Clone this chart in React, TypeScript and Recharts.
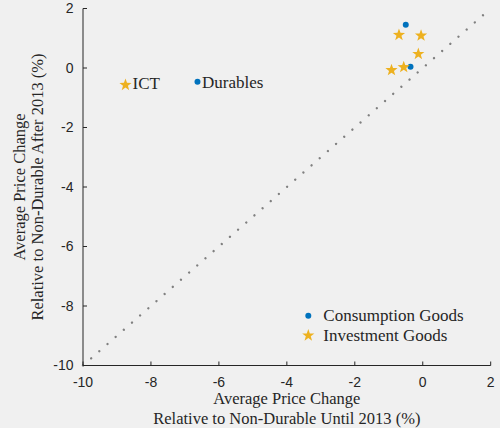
import React from "react";
import {
  ScatterChart,
  Scatter,
  XAxis,
  YAxis,
  ReferenceLine,
} from "recharts";

// Consumption goods (blue dots)
const consumptionNames = ["Durables", "", ""];
const consumptionX = [-6.63, -0.5, -0.36];
const consumptionY = [-0.46, 1.45, 0.04];

// Investment goods (yellow stars)
const investmentNames = ["ICT", "", "", "", "", ""];
const investmentX = [-8.75, -0.7, -0.05, -0.13, -0.92, -0.56];
const investmentY = [-0.57, 1.11, 1.09, 0.47, -0.07, 0.03];

const axisTicks = [-10, -8, -6, -4, -2, 0, 2];
const axisDomain = [-10, 2];
const diagonal = [-10, 2];

const seriesNames = ["Consumption Goods", "Investment Goods"];
const xTitle = ["Average Price Change", "Relative to Non-Durable Until 2013 (%)"];
const yTitle = ["Average Price Change", "Relative to Non-Durable After 2013 (%)"];

const BLUE = "#0072BD";
const GOLD = "#EDB120";
const INK = "#262626";
const BG = "#f0f0f0";
const SERIF = "'Liberation Serif', 'Times New Roman', serif";
const SANS = "'Liberation Sans', Arial, sans-serif";

const consumptionData = consumptionX.map((x, i) => ({
  x,
  y: consumptionY[i],
  name: consumptionNames[i],
}));
const investmentData = investmentX.map((x, i) => ({
  x,
  y: investmentY[i],
  name: investmentNames[i],
}));

function starPath(cx: number, cy: number, R: number, r: number) {
  const pts: string[] = [];
  for (let k = 0; k < 10; k++) {
    const rad = k % 2 === 0 ? R : r;
    const a = -Math.PI / 2 + (k * Math.PI) / 5;
    pts.push(`${(cx + rad * Math.cos(a)).toFixed(2)},${(cy + rad * Math.sin(a)).toFixed(2)}`);
  }
  return `M${pts.join("L")}Z`;
}

const PointLabel = ({ x, y, text }: { x: number; y: number; text: string }) =>
  text ? (
    <text x={x} y={y} fontFamily={SERIF} fontSize={17} fill={INK}>
      {text}
    </text>
  ) : null;

const DotShape = (props: any) => {
  const { cx, cy, payload } = props;
  return (
    <g>
      <circle cx={cx} cy={cy} r={3} fill={BLUE} />
      <PointLabel x={cx + 4.5} y={cy + 6} text={payload?.name} />
    </g>
  );
};

const StarShape = (props: any) => {
  const { cx, cy, payload } = props;
  return (
    <g>
      <path d={starPath(cx, cy, 6.4, 2.6)} fill={GOLD} />
      <PointLabel x={cx + 7} y={cy + 4} text={payload?.name} />
    </g>
  );
};

const XTitle = (props: any) => {
  const { x, y, width } = props.viewBox;
  const cx = x + width / 2;
  return (
    <g fontFamily={SERIF} fontSize={16.5} fill={INK} textAnchor="middle">
      <text x={cx} y={y + 38}>{xTitle[0]}</text>
      <text x={cx} y={y + 58}>{xTitle[1]}</text>
    </g>
  );
};

const YTitle = (props: any) => {
  const { y, height } = props.viewBox;
  const cy = y + height / 2;
  return (
    <g fontFamily={SERIF} fontSize={16.5} fill={INK} textAnchor="middle">
      <text x={24.5} y={cy} transform={`rotate(-90, 24.5, ${cy})`}>{yTitle[0]}</text>
      <text x={43} y={cy} transform={`rotate(-90, 43, ${cy})`}>{yTitle[1]}</text>
    </g>
  );
};

// Series key in the lower-right corner of the plot
const SeriesKey = ({ x, y }: { x: number; y: number }) => (
  <g fontFamily={SERIF} fontSize={17} fill={INK}>
    <circle cx={x} cy={y} r={3} fill={BLUE} />
    <text x={x + 15} y={y + 4.8}>{seriesNames[0]}</text>
    <path d={starPath(x, y + 19.8, 6.4, 2.6)} fill={GOLD} />
    <text x={x + 15} y={y + 24.8}>{seriesNames[1]}</text>
  </g>
);

export default function App() {
  return (
    <div
      style={{
        position: "absolute",
        left: 0,
        top: 0,
        width: 500,
        height: 428,
        background: BG,
      }}
    >
      <ScatterChart
        width={500}
        height={428}
        margin={{ top: 8.5, right: 9.3, bottom: 0, left: 0 }}
      >
        <XAxis
          type="number"
          dataKey="x"
          domain={axisDomain}
          ticks={axisTicks}
          interval={0}
          height={62.5}
          allowDataOverflow
          stroke={INK}
          tickSize={-4}
          tickMargin={15.5}
          tick={{ fill: INK, fontFamily: SANS, fontSize: 14 }}
          axisLine={{ stroke: INK, strokeWidth: 1 }}
          tickLine={{ stroke: INK }}
          label={{ content: XTitle }}
        />
        <YAxis
          type="number"
          dataKey="y"
          domain={axisDomain}
          ticks={axisTicks}
          interval={0}
          width={83}
          allowDataOverflow
          stroke={INK}
          tickSize={-4}
          tickMargin={13.5}
          tick={{ fill: INK, fontFamily: SANS, fontSize: 14 }}
          axisLine={{ stroke: INK, strokeWidth: 1 }}
          tickLine={{ stroke: INK }}
          label={{ content: YTitle }}
        />
        <ReferenceLine
          segment={[
            { x: diagonal[0], y: diagonal[0] },
            { x: diagonal[1], y: diagonal[1] },
          ]}
          stroke="#808080"
          strokeWidth={2.4}
          strokeDasharray="0.01 10.84"
          strokeLinecap="round"
        />
        <Scatter
          name={seriesNames[0]}
          data={consumptionData}
          fill={BLUE}
          shape={DotShape}
          isAnimationActive={false}
        />
        <Scatter
          name={seriesNames[1]}
          data={investmentData}
          fill={GOLD}
          shape={StarShape}
          isAnimationActive={false}
        />
        <SeriesKey x={308.3} y={315.7} />
      </ScatterChart>
    </div>
  );
}
